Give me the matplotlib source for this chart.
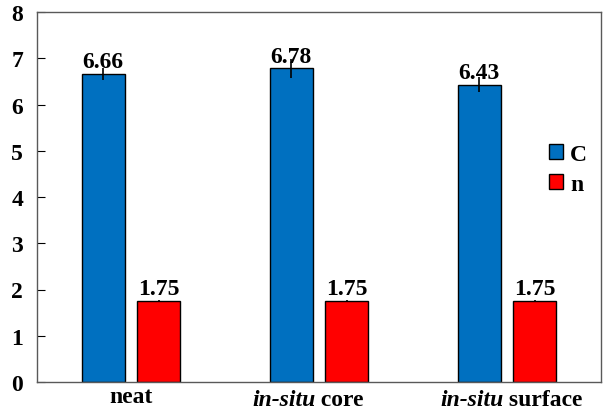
import matplotlib
matplotlib.use("Agg")
import matplotlib.pyplot as plt
import numpy as np

# data
groups = ["neat", "in-situ core", "in-situ surface"]
c_values = [6.66, 6.78, 6.43]
c_errors = [0.12, 0.21, 0.17]
n_values = [1.75, 1.75, 1.75]
n_errors = [0.03, 0.03, 0.03]

plt.rcParams["font.family"] = ["Liberation Serif", "DejaVu Serif"]
plt.rcParams["font.weight"] = "bold"
fs = 17

fig = plt.figure(figsize=(6.1, 4.1), dpi=100)
ax = fig.add_axes([37 / 610, 27 / 410, 564 / 610, 370 / 410])

x = np.arange(len(groups))
width = 0.23
gap = 0.065
xc = x - (width + gap) / 2
xn = x + (width + gap) / 2

ax.bar(xc, c_values, width, color="#0070c0", edgecolor="black", linewidth=1.0,
       label="C", zorder=2)
ax.bar(xn, n_values, width, color="#ff0000", edgecolor="black", linewidth=1.0,
       label="n", zorder=2)
ax.errorbar(xc, c_values, yerr=c_errors, fmt="none", ecolor="black",
            elinewidth=1.2, capsize=0, zorder=3)
ax.errorbar(xn, n_values, yerr=n_errors, fmt="none", ecolor="black",
            elinewidth=1.2, capsize=0, zorder=3)

for xi, v in zip(list(xc) + list(xn), c_values + n_values):
    ax.text(xi, v + 0.04, f"{v:.2f}", ha="center", va="bottom",
            fontsize=fs, fontweight="bold")

ax.set_xlim(-0.5, 2.5)
ax.set_ylim(0, 8)
ax.set_yticks(range(0, 9))
ax.tick_params(axis="y", direction="in", length=6, labelsize=fs, pad=10)
ax.tick_params(axis="x", length=0, labelsize=fs, pad=3)
ax.set_xticks(x)
ax.set_xticklabels([groups[0], "", ""])

# "in-situ" in italics, the rest upright
for xi, name in zip(x[1:], groups[1:]):
    head, rest = name.split(" ", 1)
    ax.text(xi - 0.02, -0.16, head, ha="right", va="top", fontsize=fs,
            fontweight="bold", style="italic")
    ax.text(xi - 0.02, -0.16, " " + rest, ha="left", va="top", fontsize=fs,
            fontweight="bold")

for s in ax.spines.values():
    s.set_color("#595959")
    s.set_linewidth(1.0)

ax.legend(loc="center right", bbox_to_anchor=(1.0, 0.575), frameon=False,
          fontsize=fs, handlelength=0.6, handleheight=0.6,
          handletextpad=0.3, labelspacing=0.4, borderaxespad=0.2)

fig.savefig("out.png", dpi=100)
